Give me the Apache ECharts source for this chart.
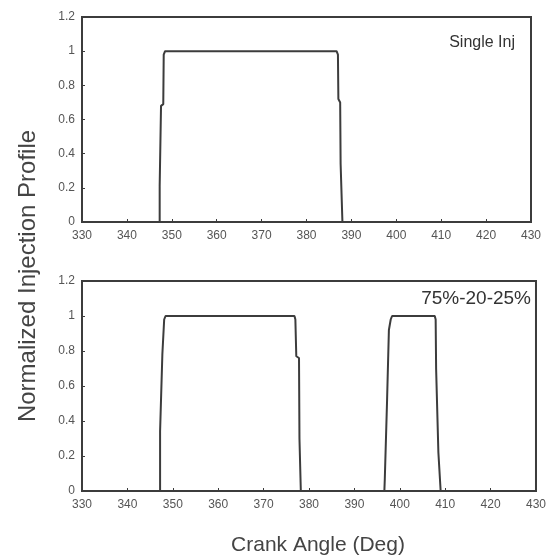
<!DOCTYPE html>
<html><head><meta charset="utf-8">
<script src="https://cdn.jsdelivr.net/npm/echarts@6/dist/echarts.min.js"></script>
<style>html,body{margin:0;padding:0;background:#fff}#c{width:549px;height:560px}</style>
</head><body><div id="c"></div>
<script>
// Tick labels
const xTicks = [330,340,350,360,370,380,390,400,410,420,430];
const yTicks = [0,0.2,0.4,0.6,0.8,1,1.2];
// Panel labels
const panelLabels = ["Single Inj", "75%-20-25%"];
// Top panel: single injection profile (crank angle, normalized value)
const singleAngle = [330, 347.3, 347.3, 347.6, 347.6, 348.1, 348.2, 348.5, 386.7, 387.0, 387.1, 387.5, 387.6, 388.0, 388.0, 430];
const singleValue = [0,   0,     0.21,  0.22,  0.68,  0.69,  0.98,  1.0,   1.0,   0.98,  0.72,  0.7,   0.34,  0.33,  0,     0];
// Bottom panel: split injection 75%-20-25%
const splitAngle = [330, 347.2, 347.2, 347.5, 347.7, 348.0, 348.1, 348.4, 376.8, 377.0, 377.2, 377.8, 377.9, 378.2, 378.2,
                    396.6, 396.7, 397.1, 397.2, 397.5, 397.6, 398.0, 398.3, 407.7, 407.9, 408.0, 408.4, 408.5, 408.9, 409.0, 430];
const splitValue = [0,   0,     0.34,  0.35,  0.78,  0.79,  0.98,  1.0,   1.0,   0.98,  0.77,  0.76,  0.3,   0.29,  0,
                    0,     0.07,  0.08,  0.52,  0.53,  0.92,  0.98,  1.0,   1.0,   0.98,  0.7,   0.69,  0.22,  0.21,  0,     0];

const zip = (a,b) => a.map((v,i)=>[v,b[i]]);
const axisColor = '#3c3c3c';
const lbl = {color:'#555', fontSize:12, fontFamily:'Liberation Sans'};
function xAx(gi){return {gridIndex:gi,type:'value',min:xTicks[0],max:xTicks[xTicks.length-1],interval:10,
  axisLine:{show:true,onZero:false,lineStyle:{color:axisColor,width:2}},
  axisTick:{show:true,inside:true,length:3,lineStyle:{color:axisColor}},
  axisLabel:Object.assign({margin:8},lbl),splitLine:{show:false}};}
function yAx(gi){return {gridIndex:gi,type:'value',min:yTicks[0],max:yTicks[yTicks.length-1],interval:0.2,
  axisLine:{show:true,lineStyle:{color:axisColor,width:2}},
  axisTick:{show:true,inside:true,length:3,lineStyle:{color:axisColor}},
  axisLabel:Object.assign({margin:7,formatter:v=>String(+v.toFixed(1))},lbl),splitLine:{show:false}};}
const chart = echarts.init(document.getElementById('c'),null,{renderer:'canvas'});
chart.setOption({
  backgroundColor:'#fff',
  animation:false,
  grid:[
    {left:82,top:17,width:449,height:205,show:true,borderColor:axisColor,borderWidth:2,backgroundColor:'transparent'},
    {left:82,top:281,width:457,height:210,show:true,borderColor:axisColor,borderWidth:2,backgroundColor:'transparent'}
  ],
  xAxis:[xAx(0),xAx(1)],
  yAxis:[yAx(0),yAx(1)],
  graphic:[
    {type:'text',x:515,y:43,style:{text:panelLabels[0],fontSize:16,fontFamily:'Liberation Sans',fill:'#333',align:'right',verticalAlign:'middle'}},
    {type:'text',x:531,y:299,style:{text:panelLabels[1],fontSize:19,fontFamily:'Liberation Sans',fill:'#333',align:'right',verticalAlign:'middle'}},
    {type:'text',x:28,y:276,rotation:Math.PI/2,style:{text:'Normalized Injection Profile',fontSize:24,fontFamily:'Liberation Sans',fill:'#444',align:'center',verticalAlign:'middle'}},
    {type:'text',x:318,y:545,style:{text:'Crank Angle (Deg)',fontSize:21,fontFamily:'Liberation Sans',fill:'#444',align:'center',verticalAlign:'middle'}}
  ],
  series:[
    {type:'line',xAxisIndex:0,yAxisIndex:0,data:zip(singleAngle,singleValue),showSymbol:false,lineStyle:{color:'#3c3c3c',width:2}},
    {type:'line',xAxisIndex:1,yAxisIndex:1,data:zip(splitAngle,splitValue),showSymbol:false,lineStyle:{color:'#3c3c3c',width:2}}
  ]
});
</script></body></html>
